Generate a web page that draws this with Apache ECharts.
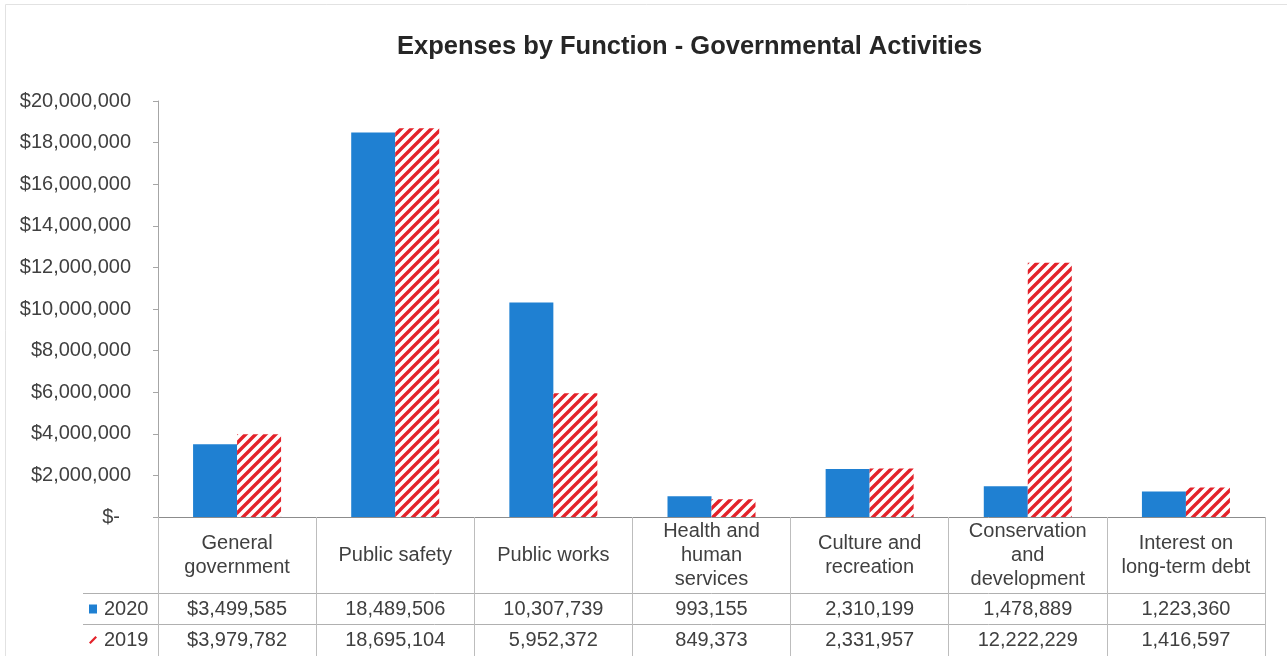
<!DOCTYPE html>
<html>
<head>
<meta charset="utf-8">
<script src="https://cdn.jsdelivr.net/npm/echarts@6/dist/echarts.min.js"></script>
<style>
html,body{margin:0;padding:0;background:#fff;}
#c{width:1287px;height:656px;}
</style>
</head>
<body>
<div id="c"></div>
<script>
const titleText = 'Expenses by Function - Governmental Activities';
const categories = ['General\ngovernment', 'Public safety', 'Public works', 'Health and\nhuman\nservices', 'Culture and\nrecreation', 'Conservation\nand\ndevelopment', 'Interest on\nlong-term debt'];
const seriesNames = ['2020', '2019'];
const values2020 = [3499585, 18489506, 10307739, 993155, 2310199, 1478889, 1223360];
const values2019 = [3979782, 18695104, 5952372, 849373, 2331957, 12222229, 1416597];
const yMin = 0, yMax = 20000000, yStep = 2000000;

const FONT = '"Liberation Sans", Arial, sans-serif';
const TXT = '#404040';
const BLUE = '#1f80d2';
const RED = '#e3222a';
const FS = 20;

function money(v, i) {
  const s = v.toLocaleString('en-US');
  return i === 0 ? '$' + s : s;
}

// hatch pattern for 2019
const tile = document.createElement('canvas');
const P = 10;
tile.width = P; tile.height = P;
const g = tile.getContext('2d');
g.fillStyle = '#fff'; g.fillRect(0, 0, P, P);
g.strokeStyle = RED; g.lineWidth = 3.4; g.lineCap = 'square';
g.beginPath();
g.moveTo(-2, P + 2); g.lineTo(P + 2, -2);
g.moveTo(-2, 2); g.lineTo(2, -2);
g.moveTo(P - 2, P + 2); g.lineTo(P + 2, P - 2);
g.stroke();

const chart = echarts.init(document.getElementById('c'), null, {renderer: 'canvas'});

const GRID_BOTTOM_Y = 517;
const tableAxis = (vals, offset) => ({
  type: 'category',
  data: categories,
  position: 'bottom',
  offset: offset,
  axisLine: {show: true, lineStyle: {color: '#b0b0b0', width: 1}},
  axisTick: {show: false},
  splitLine: {show: false},
  axisLabel: {
    interval: 0,
    margin: 16,
    verticalAlign: 'middle',
    fontFamily: FONT, fontSize: FS, color: TXT,
    formatter: (v, i) => money(vals[i], i)
  }
});

chart.setOption({
  animation: false,
  backgroundColor: '#fff',
  title: {
    text: titleText,
    left: 392,
    top: 29,
    textStyle: {fontFamily: FONT, fontSize: 25.5, fontWeight: 'bold', color: '#262626'}
  },
  legend: {
    orient: 'vertical',
    left: 89,
    top: 599,
    padding: 0,
    itemWidth: 8,
    itemHeight: 9,
    itemGap: 11,
    textStyle: {fontFamily: FONT, fontSize: FS, color: TXT, lineHeight: 20, padding: [0, 0, 0, 2]},
    data: [
      {name: seriesNames[0], icon: 'rect', itemStyle: {color: BLUE}},
      {name: seriesNames[1], icon: 'path://M0,10 L8,2 L10,4 L2,12 Z', itemStyle: {color: RED}}
    ]
  },
  grid: {left: 158, right: 22, top: 101, bottom: 656 - GRID_BOTTOM_Y, containLabel: false},
  xAxis: [
    {
      type: 'category',
      data: categories,
      axisLine: {show: true, lineStyle: {color: '#8c8c8c', width: 1}},
      axisTick: {show: true, interval: 0, length: 140, lineStyle: {color: '#bdbdbd', width: 1}},
      axisLabel: {
        interval: 0,
        margin: 38,
        verticalAlign: 'middle',
        lineHeight: 24,
        fontFamily: FONT, fontSize: FS, color: TXT
      }
    },
    tableAxis(values2020, 76),
    tableAxis(values2019, 107)
  ],
  yAxis: {
    type: 'value',
    min: yMin, max: yMax, interval: yStep,
    axisLine: {show: true, lineStyle: {color: '#a6a6a6'}},
    axisTick: {show: true, length: 5, lineStyle: {color: '#a6a6a6'}},
    splitLine: {show: false},
    axisLabel: {
      margin: 27,
      fontFamily: FONT, fontSize: FS, color: TXT,
      formatter: v => v === 0 ? '{d|$-}' : '$' + v.toLocaleString('en-US'),
      rich: {d: {fontFamily: FONT, fontSize: FS, color: TXT, padding: [0, 11, 0, 0]}}
    }
  },
  series: [
    {
      name: seriesNames[0], type: 'bar', data: values2020,
      barWidth: 44, barGap: '0%',
      itemStyle: {color: BLUE}
    },
    {
      name: seriesNames[1], type: 'bar', data: values2019,
      barWidth: 44, barGap: '0%',
      itemStyle: {color: {image: tile, repeat: 'repeat'}}
    }
  ],
  graphic: [
    {type: 'rect', shape: {x: 5.5, y: 4.5, width: 1300, height: 700}, style: {fill: 'none', stroke: '#e2e2e2', lineWidth: 1}, silent: true, z: -1},
    {type: 'line', shape: {x1: 83, y1: 593.5, x2: 158, y2: 593.5}, style: {stroke: '#b0b0b0', lineWidth: 1}, silent: true},
    {type: 'line', shape: {x1: 83, y1: 624.5, x2: 158, y2: 624.5}, style: {stroke: '#b0b0b0', lineWidth: 1}, silent: true}
  ]
});
</script>
</body>
</html>
